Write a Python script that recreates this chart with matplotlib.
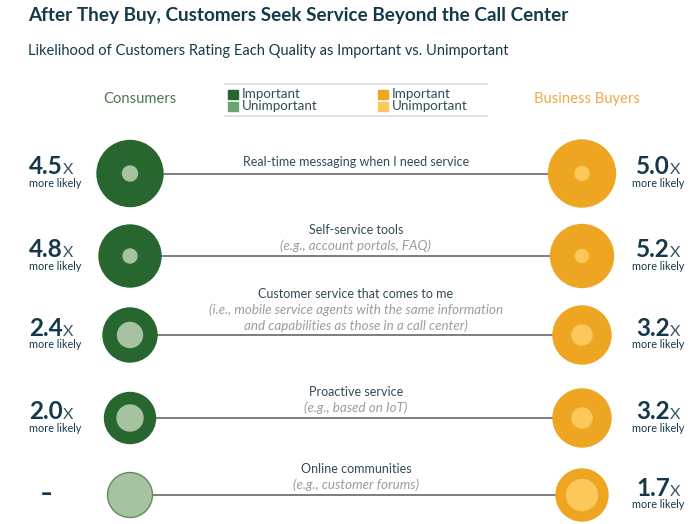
import matplotlib.pyplot as plt
from matplotlib.patches import Circle

plt.rcParams['font.family'] = ['Lato', 'DejaVu Sans']

qualities = ["Real-time messaging when I need service", "Self-service tools",
             "Customer service that comes to me", "Proactive service", "Online communities"]
examples = [[], ["(e.g., account portals, FAQ)"],
            ["(i.e., mobile service agents with the same information",
             "and capabilities as those in a call center)"],
            ["(e.g., based on IoT)"], ["(e.g., customer forums)"]]
consumer_ratio = ["4.5", "4.8", "2.4", "2.0", None]
business_ratio = ["5.0", "5.2", "3.2", "3.2", "1.7"]
# circle radii (px): outer = important, inner = unimportant
consumer_important = [33, 31, 27, 25.5, 0]
consumer_unimportant = [7.5, 7, 12.5, 13, 22.5]
business_important = [33.5, 31.5, 29, 29, 26]
business_unimportant = [7, 6.5, 10, 10, 15.5]

row_y = [173.5, 256, 335, 418, 495]
cx_left, cx_right = 130, 582

dark_green = "#27672f"
light_green = "#a6c2a0"
leg_green = "#6aa46e"
orange = "#eea622"
light_orange = "#fcc85a"
title_col = "#15394a"
text_col = "#2f4b57"
gray_it = "#9f9b97"

fig = plt.figure(figsize=(6.92, 5.24), dpi=100)
ax = fig.add_axes([0, 0, 1, 1])
ax.set_xlim(0, 692)
ax.set_ylim(524, 0)
ax.set_aspect("equal")
ax.axis("off")

ax.text(28, 15, "After They Buy, Customers Seek Service Beyond the Call Center",
        fontsize=13.6, fontweight="bold", color=title_col, va="center")
ax.text(28, 51, "Likelihood of Customers Rating Each Quality as Important vs. Unimportant",
        fontsize=10.5, color=title_col, va="center")

# legend box
ax.plot([225, 487], [84, 84], color="#dddddd", lw=1.2)
ax.plot([225, 487], [116, 116], color="#dddddd", lw=1.2)
for x0, c1, c2 in [(228, dark_green, leg_green), (378, orange, light_orange)]:
    ax.add_patch(plt.Rectangle((x0, 89.5), 9.5, 9, color=c1))
    ax.add_patch(plt.Rectangle((x0, 102), 9.5, 9, color=c2))
    ax.text(x0 + 14, 94, "Important", fontsize=9.6, color=text_col, va="center")
    ax.text(x0 + 14, 106.5, "Unimportant", fontsize=9.6, color=text_col, va="center")
ax.text(140, 99, "Consumers", fontsize=10.6, color="#4b7a45", ha="center", va="center")
ax.text(587, 99, "Business Buyers", fontsize=10.6, color="#f0a94c", ha="center", va="center")

for i, y in enumerate(row_y):
    # connector line
    left_edge = cx_left + max(consumer_important[i], consumer_unimportant[i])
    right_edge = cx_right - business_important[i]
    ax.plot([left_edge, right_edge], [y, y], color="#5a5a5a", lw=1.1, zorder=1)

    # consumer circles
    if consumer_important[i] > 0:
        ax.add_patch(Circle((cx_left, y), consumer_important[i], color=dark_green, zorder=2))
        ax.add_patch(Circle((cx_left, y), consumer_unimportant[i], color=light_green, zorder=3))
    else:
        ax.add_patch(Circle((cx_left, y), consumer_unimportant[i], facecolor=light_green,
                            edgecolor="#5f8c5b", lw=1, zorder=3))
    # business circles
    ax.add_patch(Circle((cx_right, y), business_important[i], color=orange, zorder=2))
    ax.add_patch(Circle((cx_right, y), business_unimportant[i], color=light_orange, zorder=3))

    # ratio labels
    for side, val in [("left", consumer_ratio[i]), ("right", business_ratio[i])]:
        if val is None:
            ax.text(46, y - 1, "–", fontsize=16, fontweight="bold", color=title_col,
                    family="DejaVu Sans", ha="center", va="center")
            continue
        x0 = 29 if side == "left" else 636
        t = ax.text(x0, y + 1, val, fontsize=17.5, fontweight="bold", color=title_col,
                    va="baseline")
        ax.annotate("X", xycoords=(t, "data"), xy=(1, y + 1), va="baseline", fontsize=11.5,
                    color="#3a5561", xytext=(0.3, 0), textcoords="offset points")
        if side == "left":
            ax.text(x0, y + 10, "more likely", fontsize=7.8, color=title_col, va="center")
        else:
            ax.text(684, y + 10, "more likely", fontsize=7.8, color=title_col,
                    va="center", ha="right")

    # quality labels
    n_ex = len(examples[i])
    top = y - 11 - 15 * n_ex
    ax.text(356, top, qualities[i], fontsize=9, color=text_col, ha="center", va="center")
    for k, line in enumerate(examples[i]):
        ax.text(356, top + 16 * (k + 1), line, fontsize=9.6, color=gray_it, style="italic",
                ha="center", va="center")

fig.savefig("out.png", dpi=100)
